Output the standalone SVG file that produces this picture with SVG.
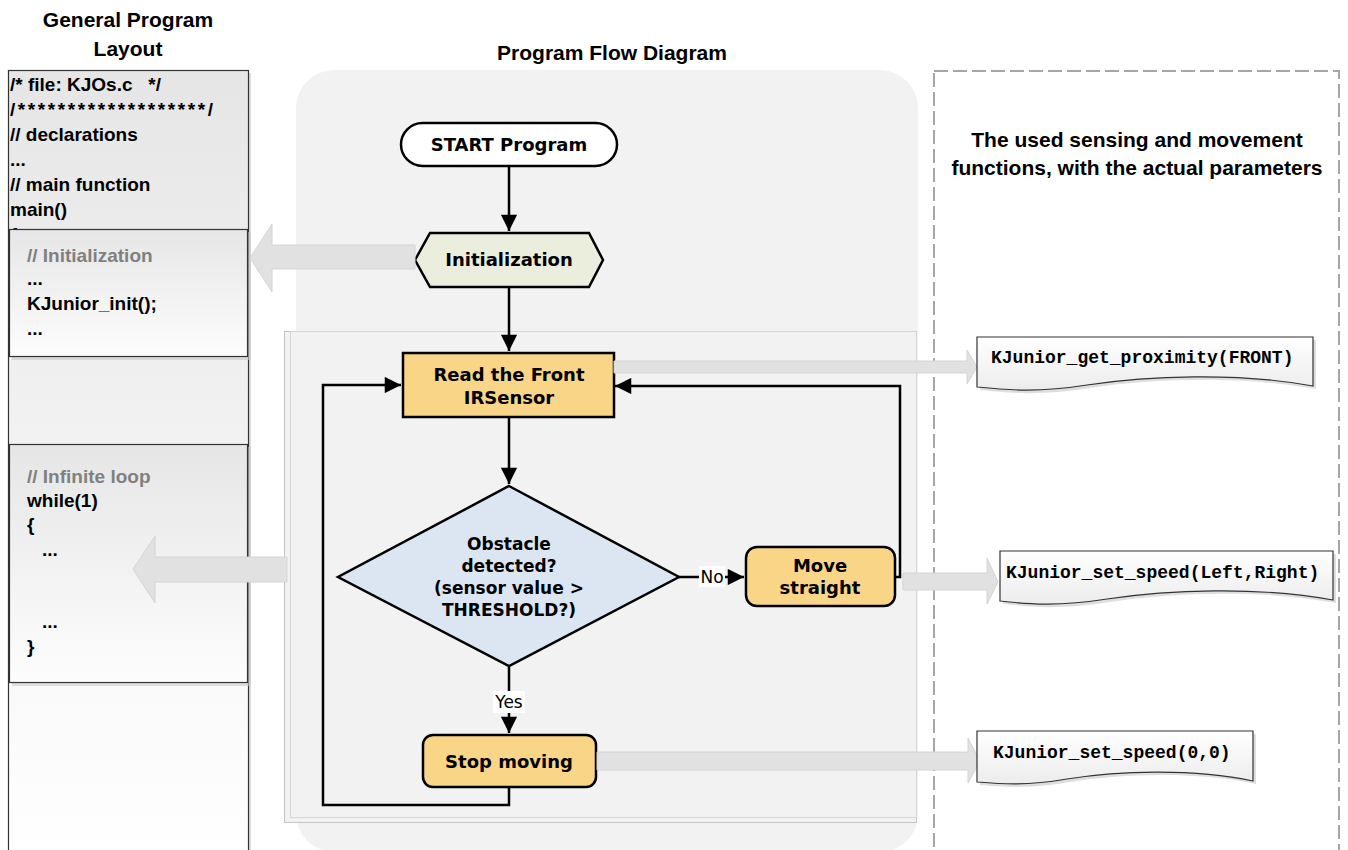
<svg xmlns="http://www.w3.org/2000/svg" width="1348" height="850" viewBox="0 0 1348 850">
<defs>
<linearGradient id="gPanel" x1="0" y1="0" x2="0" y2="1"><stop offset="0" stop-color="#e6e6e6"/><stop offset="1" stop-color="#ffffff"/></linearGradient>
<linearGradient id="gBox" x1="0" y1="0" x2="0" y2="1"><stop offset="0" stop-color="#e6e6e6"/><stop offset="1" stop-color="#fdfdfd"/></linearGradient>
<linearGradient id="gDoc" x1="0" y1="0" x2="0" y2="1"><stop offset="0" stop-color="#ffffff"/><stop offset="1" stop-color="#ececec"/></linearGradient>
<marker id="ah" viewBox="0 0 10 10" refX="10" refY="5" markerWidth="7.5" markerHeight="6.5" markerUnits="strokeWidth" orient="auto"><path d="M0,0 L10,5 L0,10 Z" fill="#000"/></marker>
</defs>
<style>
.ttl{font-family:"Liberation Sans",Arial,sans-serif;font-weight:bold;font-size:21px;fill:#000;text-anchor:middle}
.code{font-family:"Liberation Sans",Arial,sans-serif;font-weight:bold;font-size:19px;fill:#000}
.cmt{fill:#808080}
.node{stroke:#000;stroke-width:2.5}
.nt{font-family:"DejaVu Sans",Verdana,sans-serif;font-weight:bold;font-size:18px;fill:#000;text-anchor:middle}
.lbl{font-family:"DejaVu Sans",Verdana,sans-serif;font-size:17px;fill:#000;text-anchor:middle}
.mono{font-family:"Liberation Mono","Courier New",monospace;font-weight:bold;font-size:18px;fill:#000}
.con{fill:none;stroke:#000;stroke-width:2.5}
.garrow{fill:#e1e1e1;stroke:#d4d4d4;stroke-width:1}
.doc{fill:url(#gDoc);stroke:#333;stroke-width:1.2}
.shadow{fill:#c8c8c8;opacity:0.6}
</style>

<!-- titles -->
<text class="ttl" x="128" y="27">General Program</text>
<text class="ttl" x="128" y="56">Layout</text>
<text class="ttl" x="612" y="60">Program Flow Diagram</text>

<!-- left code panel -->
<g id="codePanel">
<rect x="11" y="73" width="240" height="790" class="shadow"/>
<rect x="8.5" y="70.5" width="240" height="790" fill="url(#gPanel)" stroke="#333" stroke-width="1.2"/>
<text class="code" x="10" y="91">/* file: KJOs.c&#160;&#160;&#160;*/</text>
<text class="code" x="10" y="116" textLength="203" lengthAdjust="spacing">/*******************/</text>
<text class="code" x="10" y="141">// declarations</text>
<text class="code" x="10" y="166">...</text>
<text class="code" x="10" y="191">// main function</text>
<text class="code" x="10" y="216">main()</text>
<text class="code" x="10" y="241">{</text>
</g>

<g id="initCode">
<rect x="12" y="232" width="239" height="128" class="shadow"/>
<rect x="9.5" y="229.5" width="238" height="127" fill="url(#gBox)" stroke="#333" stroke-width="1.2"/>
<text class="code cmt" x="27" y="262">// Initialization</text>
<text class="code" x="27" y="285">...</text>
<text class="code" x="27" y="310">KJunior_init();</text>
<text class="code" x="27" y="335">...</text>
</g>

<g id="loopCode">
<rect x="12" y="447" width="239" height="239" class="shadow"/>
<rect x="9.5" y="444.5" width="238" height="238" fill="url(#gBox)" stroke="#333" stroke-width="1.2"/>
<text class="code cmt" x="27" y="483">// Infinite loop</text>
<text class="code" x="27" y="507">while(1)</text>
<text class="code" x="27" y="531">{</text>
<text class="code" x="42" y="556">...</text>
<text class="code" x="42" y="628">...</text>
<text class="code" x="27" y="653">}</text>
</g>

<!-- middle panel -->
<g id="flowPanel">
<rect x="296" y="70" width="622" height="782" rx="38" fill="#f2f2f2"/>
<rect x="284.5" y="331.5" width="632" height="491" fill="#f2f2f2" stroke="#c4c4c4" stroke-width="1"/>
<rect x="290.5" y="331.5" width="626" height="486" fill="none" stroke="#d6d6d6" stroke-width="1"/>
</g>

<!-- right dashed panel -->
<g id="funcPanel">
<rect x="934" y="71" width="405" height="800" fill="none" stroke="#a6a6a6" stroke-width="2" stroke-dasharray="14 5"/>
<text class="ttl" x="1137" y="147">The used sensing and movement</text>
<text class="ttl" x="1137" y="175">functions, with the actual parameters</text>
</g>

<!-- connectors -->
<g id="connectors">
<path class="con" d="M509,166 V231" marker-end="url(#ah)"/>
<path class="con" d="M509,287 V351" marker-end="url(#ah)"/>
<path class="con" d="M509,417 V484" marker-end="url(#ah)"/>
<path class="con" d="M679,577 H744" marker-end="url(#ah)"/>
<path class="con" d="M895,577 H900 V386 H615" marker-end="url(#ah)"/>
<path class="con" d="M509,666 V733" marker-end="url(#ah)"/>
<path class="con" d="M509,787 V805 H323 V385 H401" marker-end="url(#ah)"/>
<rect x="699" y="566" width="26" height="21" fill="#fff"/>
<text class="lbl" x="712" y="583">No</text>
<rect x="493" y="691" width="32" height="22" fill="#fff"/>
<text class="lbl" x="509" y="708">Yes</text>
</g>

<!-- nodes -->
<g id="start">
<rect x="401" y="123" width="216" height="43" rx="21.5" fill="#fff" class="node"/>
<text class="nt" x="509" y="151">START Program</text>
</g>
<g id="init">
<polygon points="415,260 430,233 589,233 603,260 589,287 430,287" fill="#ebeedd" class="node"/>
<text class="nt" x="509" y="266">Initialization</text>
</g>
<g id="read">
<rect x="403" y="353" width="211" height="64" fill="#f9d588" class="node"/>
<text class="nt" x="509" y="381">Read the Front</text>
<text class="nt" x="509" y="404">IRSensor</text>
</g>
<g id="decision">
<polygon points="509,486 679,577 509,666 338,577" fill="#dce6f2" class="node"/>
<text class="nt" x="509" y="550" style="font-size:17px">Obstacle</text>
<text class="nt" x="509" y="572" style="font-size:17px">detected?</text>
<text class="nt" x="509" y="594" style="font-size:17px">(sensor value &gt;</text>
<text class="nt" x="509" y="616" style="font-size:17px">THRESHOLD?)</text>
</g>
<g id="move">
<rect x="746" y="547" width="149" height="59" rx="11" fill="#f9d588" class="node"/>
<text class="nt" x="820" y="572">Move</text>
<text class="nt" x="820" y="594">straight</text>
</g>
<g id="stop">
<rect x="423" y="735" width="173" height="52" rx="10" fill="#f9d588" class="node"/>
<text class="nt" x="509" y="768">Stop moving</text>
</g>

<!-- gray mapping arrows -->
<g id="mapArrows">
<polygon class="garrow" points="415,245 272,245 272,224 250,258 272,292 272,269 415,269"/>
<polygon class="garrow" points="287,557 155,557 155,536 133,569 155,603 155,582 287,582"/>
<polygon class="garrow" points="614,361 967,361 967,350 977,367 967,384 967,373 614,373"/>
<polygon class="garrow" points="903,573 987,573 987,558 998,582 987,604 987,590 903,590"/>
<polygon class="garrow" points="597,752 968,752 968,738 980,761 968,783 968,770 597,770"/>
</g>

<!-- function documents -->
<g id="fnProximity">
<path class="shadow" d="M980,340 H1316 V389 C1240,375 1150,379 1090,388 C1040,396 1010,393 980,390 Z"/>
<path class="doc" d="M977,337 H1313 V386 C1237,372 1147,376 1087,385 C1037,393 1007,390 977,387 Z"/>
<text class="mono" x="991" y="363">KJunior_get_proximity(FRONT)</text>
</g>
<g id="fnSetSpeed">
<path class="shadow" d="M1003,554 H1336 V603 C1260,589 1170,593 1110,602 C1060,610 1030,607 1003,604 Z"/>
<path class="doc" d="M1000,551 H1333 V600 C1257,586 1167,590 1107,599 C1057,607 1027,604 1000,601 Z"/>
<text class="mono" x="1006" y="578">KJunior_set_speed(Left,Right)</text>
</g>
<g id="fnStop">
<path class="shadow" d="M980,734 H1256 V784 C1195,771 1120,774 1070,782 C1030,789 1005,787 980,785 Z"/>
<path class="doc" d="M977,731 H1253 V781 C1192,768 1117,771 1067,779 C1027,786 1002,784 977,782 Z"/>
<text class="mono" x="993" y="758">KJunior_set_speed(0,0)</text>
</g>
</svg>
